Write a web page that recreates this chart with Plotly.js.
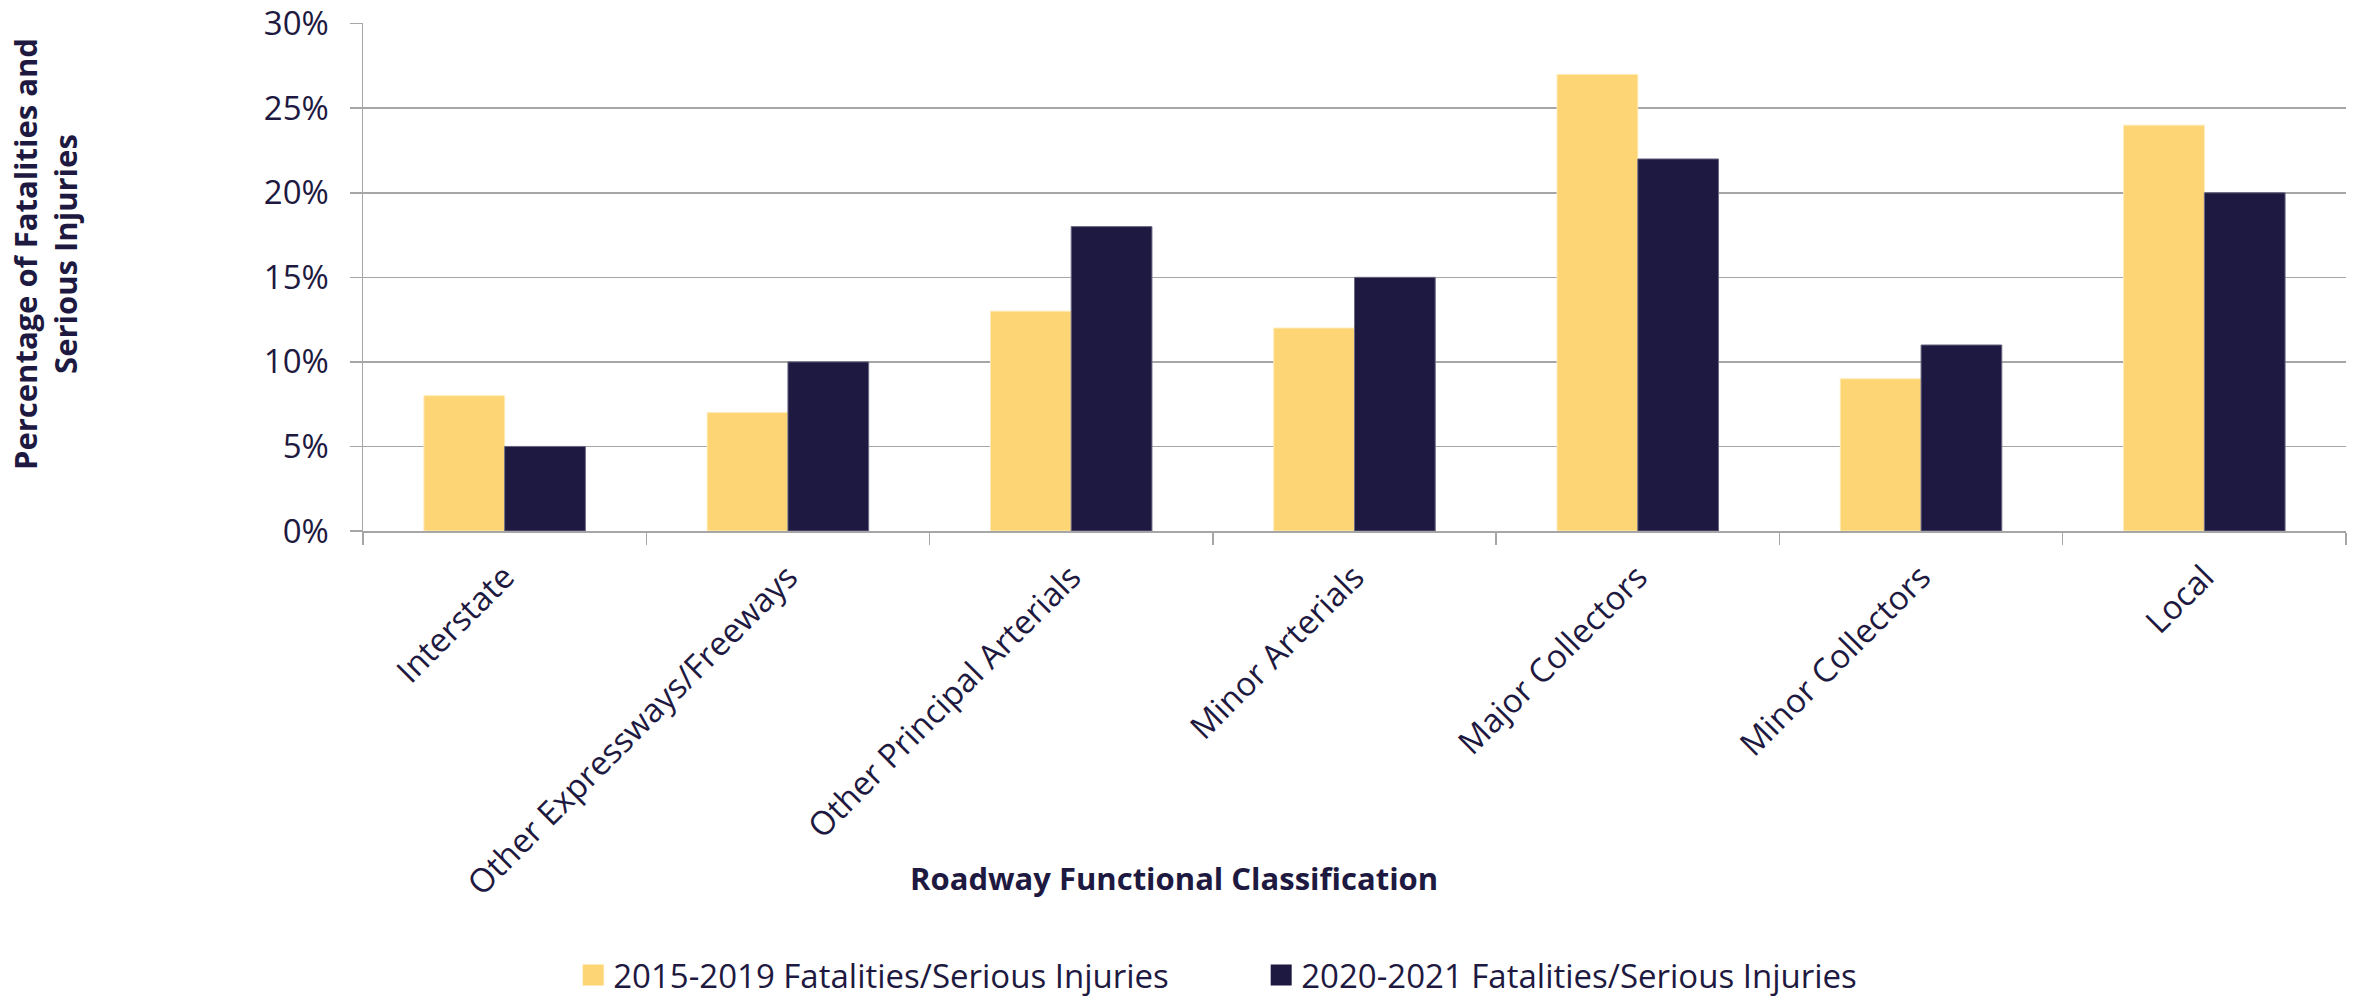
<!DOCTYPE html>
<html>
<head>
<meta charset="utf-8">
<script src="https://cdn.plot.ly/plotly-3.0.1.min.js"></script>
<style>html,body{margin:0;padding:0;background:#fff;}</style>
</head>
<body>
<div id="chart" style="width:2361px;height:1003px;"></div>
<script>
const categories = ["Interstate", "Other Expressways/Freeways", "Other Principal Arterials", "Minor Arterials", "Major Collectors", "Minor Collectors", "Local"];
const series2015 = [8, 7, 13, 12, 27, 9, 24];
const series2020 = [5, 10, 18, 15, 22, 11, 20];
const seriesNames = ["2015-2019 Fatalities/Serious Injuries", "2020-2021 Fatalities/Serious Injuries"];
const yTicks = [0, 5, 10, 15, 20, 25, 30];

const textColor = "#1E1940";
const font = "Open Sans, sans-serif";

const traces = [
  {type: "bar", name: seriesNames[0], x: categories, y: series2015,
   marker: {color: "#FDD575", line: {color: "#FFEAB5", width: 1}}},
  {type: "bar", name: seriesNames[1], x: categories, y: series2020,
   marker: {color: "#1E1940", line: {color: "#6B6884", width: 1}}}
];

const layout = {
  width: 2361, height: 1003, autosize: false,
  margin: {l: 363, r: 15, t: 23, b: 472, pad: 0, autoexpand: false},
  paper_bgcolor: "#fff", plot_bgcolor: "#fff",
  font: {family: font, color: textColor, size: 33},
  barmode: "group", bargap: 0.43, bargroupgap: 0,
  xaxis: {
    type: "category", tickangle: -45, tickson: "boundaries",
    ticks: "outside", ticklen: 12, tickcolor: "#a6a6a6", tickwidth: 1.5,
    showline: true, linecolor: "#a6a6a6", linewidth: 1.5,
    showgrid: false, ticklabelstandoff: 12, automargin: false,
    tickfont: {family: font, size: 33, color: textColor}
  },
  yaxis: {
    range: [0, 30.04], tickvals: yTicks, ticktext: yTicks.map(v => v + "%"),
    ticks: "outside", ticklen: 12, tickcolor: "#a6a6a6", tickwidth: 1.5,
    showline: true, linecolor: "#a6a6a6", linewidth: 1.5,
    showgrid: true, gridcolor: "#a6a6a6", gridwidth: 1.5, zeroline: false,
    ticklabelstandoff: 14, automargin: false, ticklabeloverflow: "allow",
    tickfont: {family: font, size: 33, color: textColor}
  },
  showlegend: true,
  legend: {
    orientation: "h", x: 0.106, xanchor: "left", y: -0.929, yanchor: "bottom",
    font: {family: font, size: 33, color: textColor},
    entrywidth: 643, traceorder: "normal"
  },
  annotations: [
    {text: "<b>Percentage of Fatalities and<br>Serious Injuries</b>", xref: "paper", yref: "paper",
     x: -0.1604, y: 0.545, xanchor: "center", yanchor: "middle", textangle: -90, showarrow: false,
     font: {family: font, size: 31, color: textColor}},
    {text: "<b>Roadway Functional Classification</b>", xref: "paper", yref: "paper",
     x: 0.409, y: -0.6837, xanchor: "center", yanchor: "middle", showarrow: false,
     font: {family: font, size: 31, color: textColor}}
  ]
};

Plotly.newPlot("chart", traces, layout, {displayModeBar: false, staticPlot: true}).then(function () {
  document.querySelectorAll("#chart .legendpoints path").forEach(function (p) {
    const t = p.getAttribute("transform") || "";
    p.setAttribute("transform", t + " scale(1.75)");
    p.style.strokeWidth = "0";
  });
});
</script>
</body>
</html>
